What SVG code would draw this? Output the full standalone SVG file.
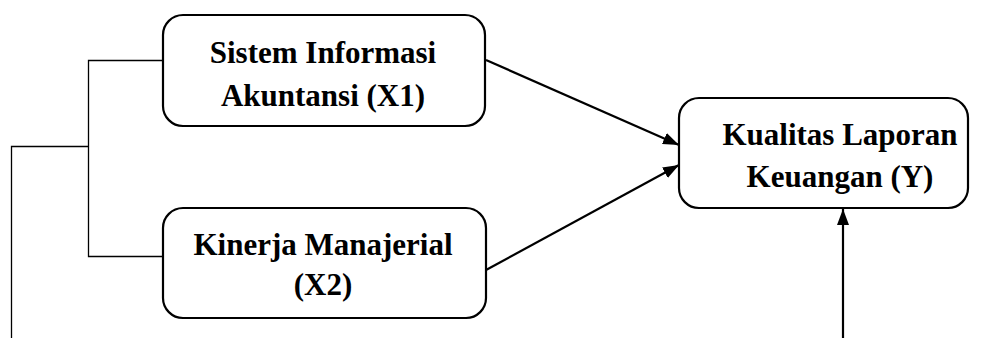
<svg xmlns="http://www.w3.org/2000/svg" width="992" height="338" viewBox="0 0 992 338">
<style>
.box{fill:#fff;stroke:#000;stroke-width:2.2}
.lbl{font-family:"Liberation Serif","Times New Roman",serif;font-weight:bold;font-size:31px;fill:#000;text-anchor:middle}
.thin{fill:none;stroke:#000;stroke-width:1.3}
.arr{fill:none;stroke:#000;stroke-width:2.2}
</style>
<defs>
<marker id="ah" viewBox="0 0 16 12" refX="16" refY="6" markerWidth="16" markerHeight="12" markerUnits="userSpaceOnUse" orient="auto">
<path d="M0,0 L16,6 L0,12 Z" fill="#000"/>
</marker>
</defs>
<g id="connectors">
<polyline class="thin" points="163,60.5 88.5,60.5 88.5,256.5 163,256.5"/>
<polyline class="thin" points="88.5,146.5 11.5,146.5 11.5,338"/>
<line class="arr" x1="486" y1="60" x2="679" y2="145" marker-end="url(#ah)"/>
<line class="arr" x1="486" y1="270" x2="679" y2="165" marker-end="url(#ah)"/>
<line class="arr" x1="843" y1="338" x2="843" y2="209" marker-end="url(#ah)"/>
</g>
<g id="x1">
<rect class="box" x="163" y="15" width="322" height="111" rx="20"/>
<text class="lbl" x="323" y="63">Sistem Informasi</text>
<text class="lbl" x="323" y="106">Akuntansi (X1)</text>
</g>
<g id="x2">
<rect class="box" x="163" y="208" width="323" height="110" rx="20"/>
<text class="lbl" x="323" y="255">Kinerja Manajerial</text>
<text class="lbl" x="323" y="295">(X2)</text>
</g>
<g id="y">
<rect class="box" x="679" y="98" width="289" height="110" rx="20"/>
<text class="lbl" x="840" y="145">Kualitas Laporan</text>
<text class="lbl" x="840" y="187">Keuangan (Y)</text>
</g>
</svg>
